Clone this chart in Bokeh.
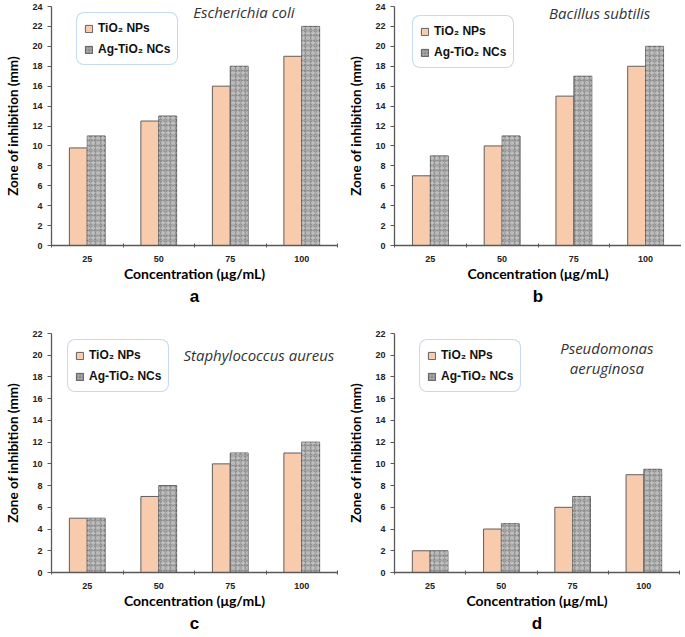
from bokeh.plotting import figure
from bokeh.models import (Range1d, LinearAxis, FixedTicker, SingleIntervalTicker,
                          Label, Title, Legend)
from bokeh.transform import dodge
from bokeh.layouts import gridplot
from bokeh.embed import file_html
from bokeh.resources import INLINE

# ---------------- data ----------------
concentrations = ["25", "50", "75", "100"]
series_names = ["TiO₂ NPs", "Ag-TiO₂ NCs"]

ecoli_tio2 = [9.8, 12.5, 16, 19]
ecoli_ag = [11, 13, 18, 22]

bsub_tio2 = [7, 10, 15, 18]
bsub_ag = [9, 11, 17, 20]

saur_tio2 = [5, 7, 10, 11]
saur_ag = [5, 8, 11, 12]

paer_tio2 = [2, 4, 6, 9]
paer_ag = [2, 4.5, 7, 9.5]

y_max_top = 24
y_max_bottom = 22

x_title = "Concentration (μg/mL)"
y_title = "Zone of inhibition (mm)"

PEACH = "#F8CBAD"
GRAY = "#a3a3a3"
EDGE = "#5f5f5f"
AXIS = "#595959"

FRAME_H = 239
LEGEND_H = 51


def make_panel(tio2, ag, ymax, organism, letter, frame_w,
               bl, br, bt, bb, leg_off, org_xy):
    n = len(concentrations)
    p = figure(x_range=Range1d(0, n), y_range=Range1d(0, ymax),
               frame_width=frame_w, frame_height=FRAME_H,
               x_axis_type=None,
               output_backend="svg", toolbar_location=None,
               min_border_left=bl, min_border_right=br,
               min_border_top=bt, min_border_bottom=bb)
    # category slot centres on the numeric axis
    pos = [i + 0.5 for i in range(n)]
    src = dict(pos=pos, cat=concentrations, tio2=tio2, ag=ag)

    r1 = p.vbar(x=dodge("pos", -0.125), top="tio2", width=0.25,
                source=src, fill_color=PEACH, line_color=EDGE, line_width=1)
    r2 = p.vbar(x=dodge("pos", 0.125), top="ag", width=0.25,
                source=src, fill_color=GRAY, line_color=EDGE, line_width=1,
                hatch_pattern="dot", hatch_color="#707070", hatch_scale=3,
                hatch_weight=1)
    p.vbar(x=dodge("pos", 0.125), top="ag", width=0.25,
           source=src, fill_alpha=0, line_color=None,
           hatch_pattern="ring", hatch_color="#cdcdcd", hatch_scale=5, hatch_weight=1)

    # x axis: labels at category centres, ticks at category boundaries
    xa = LinearAxis(ticker=FixedTicker(ticks=pos, minor_ticks=list(range(0, n + 1))),
                    major_label_overrides={c: lab for c, lab in zip(pos, concentrations)})
    xa.axis_label = x_title
    xa.axis_label_text_font = "Lato"
    xa.axis_label_text_font_style = "bold"
    xa.axis_label_text_font_size = "14px"
    xa.axis_label_text_color = "#000000"
    xa.axis_label_standoff = 0
    xa.major_label_text_font = "Liberation Sans"
    xa.major_label_text_font_style = "bold"
    xa.major_label_text_font_size = "9px"
    xa.major_label_text_color = "#222222"
    xa.major_label_standoff = 8
    xa.major_tick_line_color = None
    xa.major_tick_out = 0
    xa.major_tick_in = 0
    xa.minor_tick_line_color = AXIS
    xa.minor_tick_out = 2
    xa.minor_tick_in = 2
    xa.axis_line_color = AXIS
    xa.axis_line_width = 1.3
    p.add_layout(xa, "below")

    ya = p.yaxis[0]
    ya.ticker = SingleIntervalTicker(interval=2, num_minor_ticks=0)
    ya.axis_label = y_title
    ya.axis_label_text_font = "Lato"
    ya.axis_label_text_font_style = "bold"
    ya.axis_label_text_font_size = "13.5px"
    ya.axis_label_text_color = "#000000"
    ya.axis_label_standoff = 8
    ya.major_label_text_font = "Liberation Sans"
    ya.major_label_text_font_style = "bold"
    ya.major_label_text_font_size = "9px"
    ya.major_label_text_color = "#222222"
    ya.major_label_standoff = 5
    ya.major_tick_out = 4
    ya.major_tick_in = 0
    ya.major_tick_line_color = AXIS
    ya.minor_tick_line_color = None
    ya.axis_line_color = AXIS
    ya.axis_line_width = 1.3

    p.xgrid.visible = False
    p.ygrid.visible = False
    p.outline_line_color = None
    p.background_fill_color = "white"
    p.border_fill_color = "white"

    # legend (location is the legend's bottom-left corner, from frame bottom-left)
    legend = Legend(items=[(series_names[0], [r1]), (series_names[1], [r2])],
                    location=(leg_off[0], FRAME_H - leg_off[1] - LEGEND_H),
                    orientation="vertical")
    legend.label_text_font = "Liberation Sans"
    legend.label_text_font_style = "bold"
    legend.label_text_font_size = "12px"
    legend.label_text_color = "#111111"
    legend.glyph_width = 9
    legend.glyph_height = 9
    legend.label_height = 16
    legend.label_standoff = 5
    legend.spacing = 5
    legend.padding = 7
    legend.margin = 0
    legend.border_line_color = "#8eb4e3"
    legend.border_line_width = 1.3
    legend.background_fill_color = "white"
    legend.background_fill_alpha = 1
    if "border_radius" in Legend.properties():
        legend.border_radius = 8
    p.add_layout(legend, "center")

    # organism name (italic, inside plot)
    lines = organism.split("\n")
    for k, line in enumerate(lines):
        p.add_layout(Label(x=org_xy[0], y=org_xy[1] - k * 1.85, text=line,
                           text_font="Open Sans", text_font_style="italic",
                           text_font_size="15px", text_color="#333333",
                           text_align="center", text_baseline="middle"))

    p.add_layout(Title(text=letter, align="center", text_font="Liberation Sans",
                       text_font_style="bold", text_font_size="17px",
                       text_color="#000000", standoff=0), "below")
    return p


pa = make_panel(ecoli_tio2, ecoli_ag, y_max_top, "Escherichia coli", "a", 286,
                51, 2, 6, 56, (25, 8), (2.69, 23.4))
pb = make_panel(bsub_tio2, bsub_ag, y_max_top, "Bacillus subtilis", "b", 287,
                55, 0, 6, 56, (18, 11), (2.86, 23.3))
pc = make_panel(saur_tio2, saur_ag, y_max_bottom, "Staphylococcus aureus", "c", 286,
                51, 2, 28, 56, (16, 8), (2.9, 20.0))
pd = make_panel(paer_tio2, paer_ag, y_max_bottom, "Pseudomonas\naeruginosa", "d", 285,
                45, 12, 28, 56, (25, 8), (2.98, 20.7))

grid = gridplot([[pa, pb], [pc, pd]], toolbar_location=None)

open("out.html", "w").write(file_html(grid, INLINE))
